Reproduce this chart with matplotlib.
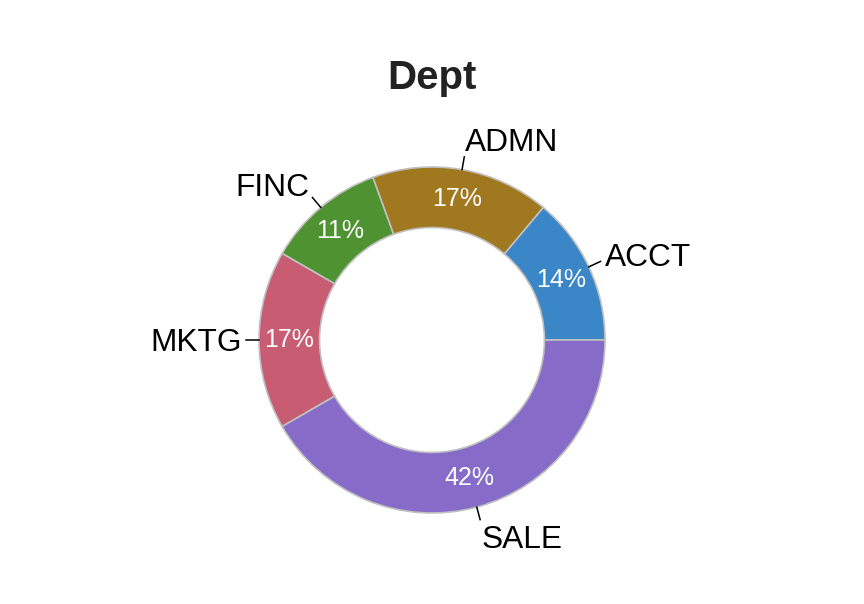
import numpy as np
import matplotlib
matplotlib.use("Agg")
import matplotlib.pyplot as plt

# Data
categories = ["ACCT", "ADMN", "FINC", "MKTG", "SALE"]
counts = [5, 6, 4, 6, 15]
colors = ["#3A86C6", "#A0781F", "#4F9232", "#C75C73", "#866CC8"]
title = "Dept"

plt.rcParams['font.family'] = ['Liberation Sans', 'DejaVu Sans']

W, H, DPI = 8.64, 6.04, 100
fig = plt.figure(figsize=(W, H), dpi=DPI)
ax = fig.add_axes([0, 0, 1, 1])
R_PX = 173.0
cx_px, cy_px = 432.0, 340.0

inner = 0.65
wedges, _ = ax.pie(counts, colors=colors, startangle=0, counterclock=True,
                   radius=1.0,
                   wedgeprops=dict(width=1 - inner, edgecolor="#C0C0C0", linewidth=1.2))

ax.set_xlim(-cx_px / R_PX, (864 - cx_px) / R_PX)
ax.set_ylim(-(604 - cy_px) / R_PX, cy_px / R_PX)
ax.set_aspect('equal')
ax.axis('off')

total = sum(counts)
for w, lab, c in zip(wedges, categories, counts):
    ang = np.deg2rad((w.theta1 + w.theta2) / 2)
    ca, sa = np.cos(ang), np.sin(ang)
    rm = (1 + inner) / 2
    ax.text(rm * ca, rm * sa, f"{round(100 * c / total)}%", color="white",
            fontsize=18, ha='center', va='center')
    ax.plot([1.0 * ca, 1.075 * ca], [1.0 * sa, 1.075 * sa], color="black", lw=1.1)
    ax.text(1.1 * ca, 1.1 * sa + 0.075 * sa - 0.02, lab, fontsize=22.8,
            ha='left' if ca >= 0 else 'right', va='center', color="black")

fig.text(0.5, 1 - 89 / 604, title, ha='center', va='baseline', fontsize=29,
         fontweight='bold', color="#222222")

fig.savefig("out.png", dpi=DPI)
